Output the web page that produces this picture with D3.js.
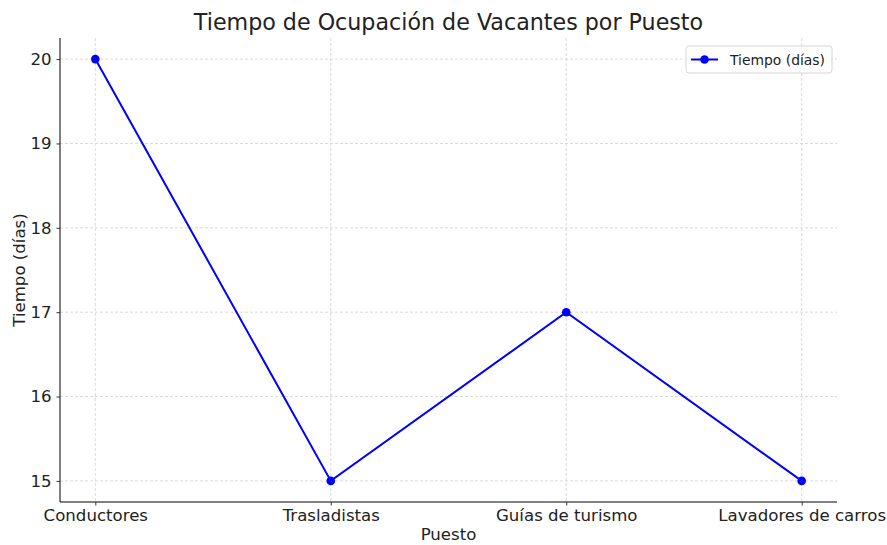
<!DOCTYPE html>
<html>
<head>
<meta charset="utf-8">
<script src="https://cdn.jsdelivr.net/npm/d3@7"></script>
<style>
  body { margin: 0; background: #fff; }
  svg, svg text { font-family: "DejaVu Sans", sans-serif; }
</style>
</head>
<body>
<svg id="chart" width="887" height="545"></svg>
<script>
let puestos = ["Conductores", "Trasladistas", "Guías de turismo", "Lavadores de carros"];
let tiempos = [20, 15, 17, 15];
let yTicks = [15, 16, 17, 18, 19, 20];

let svg = d3.select("#chart");
let plotLeft = 60, plotRight = 837, plotTop = 38, plotBottom = 502;

let x = d3.scaleLinear()
    .domain([-0.15, puestos.length - 1 + 0.15])
    .range([plotLeft, plotRight]);

let y = d3.scaleLinear()
    .domain([14.75, 20.25])
    .range([plotBottom, plotTop]);

// grid
let grid = svg.append("g");
grid.selectAll(".gx")
    .data(puestos)
    .enter().append("line")
    .attr("x1", (d, i) => x(i))
    .attr("x2", (d, i) => x(i))
    .attr("y1", plotTop)
    .attr("y2", plotBottom)
    .style("stroke", "#d0d0d0")
    .style("stroke-width", 0.8)
    .style("stroke-dasharray", "3,2");
grid.selectAll(".gy")
    .data(yTicks)
    .enter().append("line")
    .attr("x1", plotLeft)
    .attr("x2", plotRight)
    .attr("y1", d => y(d))
    .attr("y2", d => y(d))
    .style("stroke", "#d0d0d0")
    .style("stroke-width", 0.8)
    .style("stroke-dasharray", "3,2");

// axes
let xAxis = d3.axisBottom(x)
    .tickValues(d3.range(puestos.length))
    .tickFormat(i => puestos[i])
    .tickSize(3.5)
    .tickPadding(3.5);
let gx = svg.append("g")
    .attr("transform", "translate(0," + plotBottom + ")")
    .call(xAxis);
gx.attr("font-family", "DejaVu Sans").attr("font-size", 16.6);
gx.select(".domain").attr("d", "M" + plotLeft + ",0H" + plotRight).style("stroke", "#000").style("stroke-width", 1);
gx.selectAll("text").style("fill", "#222");
gx.selectAll("line").style("stroke", "#333");

let yAxis = d3.axisLeft(y)
    .tickValues(yTicks)
    .tickFormat(d3.format("d"))
    .tickSize(3.5)
    .tickPadding(5);
let gy = svg.append("g")
    .attr("transform", "translate(" + plotLeft + ",0)")
    .call(yAxis);
gy.attr("font-family", "DejaVu Sans").attr("font-size", 16.6);
gy.select(".domain").attr("d", "M0," + plotTop + "V" + plotBottom).style("stroke", "#000").style("stroke-width", 1);
gy.selectAll("text").style("fill", "#222");
gy.selectAll("line").style("stroke", "#333");

// line
let line = d3.line()
    .x((d, i) => x(i))
    .y(d => y(d));
svg.append("path")
    .datum(tiempos)
    .attr("d", line)
    .style("fill", "none")
    .style("stroke", "#0000ff")
    .style("stroke-width", 2);
svg.selectAll(".pt")
    .data(tiempos)
    .enter().append("circle")
    .attr("cx", (d, i) => x(i))
    .attr("cy", d => y(d))
    .attr("r", 4.3)
    .style("fill", "#0000ff");

// labels
svg.append("text")
    .attr("x", (plotLeft + plotRight) / 2)
    .attr("y", 30)
    .attr("text-anchor", "middle")
    .style("font-size", "22.2px")
    .style("fill", "#222")
    .text("Tiempo de Ocupación de Vacantes por Puesto");
svg.append("text")
    .attr("x", (plotLeft + plotRight) / 2)
    .attr("y", 540)
    .attr("text-anchor", "middle")
    .style("font-size", "16.6px")
    .style("fill", "#222")
    .text("Puesto");
svg.append("text")
    .attr("transform", "translate(25," + ((plotTop + plotBottom) / 2) + ")rotate(-90)")
    .attr("text-anchor", "middle")
    .style("font-size", "16.6px")
    .style("fill", "#222")
    .text("Tiempo (días)");

// legend
let lg = svg.append("g").attr("transform", "translate(686,46)");
lg.append("rect")
    .attr("width", 146)
    .attr("height", 27)
    .attr("rx", 3)
    .style("fill", "#fff")
    .style("fill-opacity", 0.8)
    .style("stroke", "#d6d6d6");
lg.append("line")
    .attr("x1", 5).attr("x2", 32)
    .attr("y1", 13.5).attr("y2", 13.5)
    .style("stroke", "#0000ff")
    .style("stroke-width", 2);
lg.append("circle")
    .attr("cx", 18.5).attr("cy", 13.5).attr("r", 4.3)
    .style("fill", "#0000ff");
lg.append("text")
    .attr("x", 44).attr("y", 18.5)
    .style("font-size", "13.9px")
    .style("fill", "#222")
    .text("Tiempo (días)");
</script>
</body>
</html>
